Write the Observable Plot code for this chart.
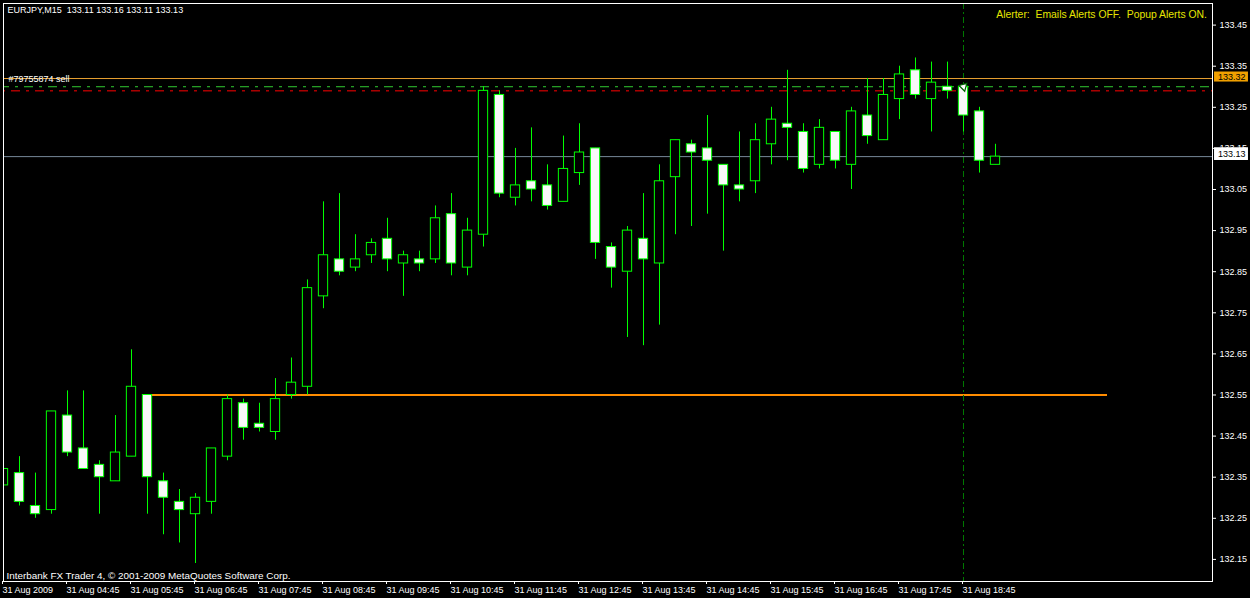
<!DOCTYPE html>
<html><head><meta charset="utf-8">
<script src="https://cdn.jsdelivr.net/npm/d3@7"></script>
<script src="https://cdn.jsdelivr.net/npm/@observablehq/plot@0.6"></script>
<style>
html,body{margin:0;padding:0;background:#000;}
#chart svg{display:block;}
#chart text{white-space:pre;}
</style></head><body><div id="chart"></div>
<script>
// EURJPY M15 candles, 31 Aug 2009, starting 03:45
const opens  = [132.33,132.36,132.28,132.27,132.50,132.42,132.38,132.34,132.40,132.55,132.34,132.29,132.26,132.29,132.40,132.53,132.48,132.46,132.55,132.57,132.79,132.88,132.86,132.89,132.93,132.87,132.88,132.88,132.99,132.86,132.94,133.28,133.03,133.07,133.06,133.02,133.09,133.15,132.91,132.85,132.93,132.87,133.08,133.16,133.15,133.11,133.06,133.07,133.16,133.21,133.19,133.11,133.19,133.11,133.23,133.17,133.27,133.34,133.27,133.30,133.30,133.24,133.11];
const highs  = [132.42,132.40,132.36,132.51,132.56,132.56,132.39,132.50,132.66,132.55,132.36,132.32,132.31,132.42,132.55,132.54,132.53,132.59,132.64,132.83,133.02,133.04,132.94,132.93,132.98,132.90,132.90,133.01,133.04,132.98,133.30,133.29,133.15,133.20,133.11,133.18,133.21,133.15,132.92,132.96,133.04,133.11,133.17,133.17,133.23,133.11,133.19,133.21,133.25,133.34,133.21,133.22,133.19,133.25,133.32,133.32,133.35,133.37,133.36,133.36,133.30,133.25,133.16];
const lows   = [132.21,132.28,132.25,132.26,132.40,132.37,132.26,132.34,132.40,132.26,132.21,132.19,132.14,132.26,132.39,132.44,132.46,132.44,132.54,132.55,132.76,132.84,132.85,132.87,132.85,132.79,132.85,132.87,132.84,132.84,132.91,133.03,133.01,133.02,133.00,133.02,133.06,132.88,132.81,132.69,132.67,132.72,132.94,132.96,132.99,132.90,133.02,133.04,133.11,133.12,133.09,133.10,133.10,133.05,133.16,133.17,133.22,133.27,133.19,133.27,133.19,133.09,133.11];
const closes = [132.37,132.29,132.26,132.51,132.41,132.37,132.35,132.41,132.57,132.35,132.30,132.27,132.30,132.42,132.54,132.47,132.47,132.54,132.58,132.81,132.89,132.85,132.88,132.92,132.88,132.89,132.87,132.98,132.87,132.95,133.29,133.04,133.06,133.05,133.01,133.10,133.14,132.92,132.86,132.95,132.88,133.07,133.17,133.14,133.12,133.06,133.05,133.17,133.22,133.20,133.10,133.20,133.12,133.24,133.18,133.28,133.33,133.28,133.31,133.29,133.23,133.12,133.13];

const timeTickIdx = [0,4,8,12,16,20,24,28,32,36,40,44,48,52,56,60];
const timeLabels = ["31 Aug 2009","31 Aug 04:45","31 Aug 05:45","31 Aug 06:45","31 Aug 07:45","31 Aug 08:45","31 Aug 09:45","31 Aug 10:45","31 Aug 11:45","31 Aug 12:45","31 Aug 13:45","31 Aug 14:45","31 Aug 15:45","31 Aug 16:45","31 Aug 17:45","31 Aug 18:45"];
const priceTicks = [132.15,132.25,132.35,132.45,132.55,132.65,132.75,132.85,132.95,133.05,133.15,133.25,133.35,133.45];

const askPrice = 133.32;
const bidPrice = 133.13;
const orderPrice = 133.30;
const stopPrice = 133.29;
const supportPrice = 132.55;
const supportFrom = 9, supportTo = 69;
const separatorIdx = 60;
const orderArrow = [{i: 60, p: 133.30}];

const headerText = "EURJPY,M15  133.11 133.16 133.11 133.13";
const alertText = "Alerter:  Emails Alerts OFF.  Popup Alerts ON.";
const footerText = "Interbank FX Trader 4, \u00A9 2001-2009 MetaQuotes Software Corp.";
const orderLabel = "#79755874 sell";

const candles = opens.map((o, i) => ({i, o, h: highs[i], l: lows[i], c: closes[i]}));
const FONT = "Liberation Sans, Arial, sans-serif";
const half = 0.29;

const chart = Plot.plot({
  width: 1250, height: 598,
  marginLeft: 3, marginRight: 38, marginTop: 3, marginBottom: 17,
  style: {background: "#000", color: "white", fontFamily: FONT, fontSize: "9px"},
  x: {type: "linear", domain: [0, 75.5625], axis: null},
  y: {type: "linear", domain: [132.09623, 133.50255], axis: null},
  marks: [
    // support level
    Plot.ruleY([{y: supportPrice, x1: supportFrom, x2: supportTo}], {y: "y", x1: "x1", x2: "x2", stroke: "#ff8c00", strokeWidth: 2}),
    // separator
    Plot.ruleX([separatorIdx], {stroke: "#007800", strokeDasharray: "6,3,2,3"}),
    // ask line, order lines, bid line
    Plot.ruleY([askPrice], {stroke: "#e8a030"}),
    Plot.ruleY([orderPrice], {stroke: "#32cd32", strokeDasharray: "9,6,3,6", strokeDashoffset: 3}),
    Plot.ruleY([stopPrice], {stroke: "#ff0000", strokeDasharray: "9,6,3,6", strokeDashoffset: -8}),
    Plot.ruleY([bidPrice], {stroke: "#778899"}),
    // wicks
    Plot.ruleX(candles, {x: "i", y1: "l", y2: "h", stroke: "#00ff00", clip: true}),
    // bodies
    Plot.rect(candles, {
      x1: d => d.i - half, x2: d => d.i + half,
      y1: d => Math.min(d.o, d.c), y2: d => Math.max(d.o, d.c),
      fill: d => d.c < d.o ? "#f8f8f8" : "#000",
      stroke: "#00ff00", strokeWidth: 1, clip: true
    }),
    // order open arrow
    Plot.dot(orderArrow, {x: "i", y: "p", symbol: "triangle", r: 3, rotate: 45, fill: "white", stroke: "#006400", strokeWidth: 1.2}),
    Plot.frame({stroke: "white"}),
    // axes
    Plot.axisY({anchor: "right", ticks: priceTicks, tickFormat: d => d.toFixed(2), tickSize: 3, tickPadding: 4, textAnchor: "start", fill: "white", stroke: "white"}),
    Plot.axisX({anchor: "bottom", ticks: timeTickIdx, tickFormat: d => timeLabels[timeTickIdx.indexOf(d)], tickSize: 3, tickPadding: 2, textAnchor: "start", dx: -1, fill: "white", stroke: "white"}),
    // price tags in right margin
    Plot.rect([askPrice], {y1: d => d - 0.0122, y2: d => d + 0.0122, x1: 75.69, x2: 77.81, fill: "#f0a000", dy: -1.5}),
    Plot.text([askPrice], {y: d => d, x: 75.9, text: d => d.toFixed(2), fill: "#000", textAnchor: "start", dy: -1.5}),
    Plot.rect([bidPrice], {y1: d => d - 0.0155, y2: d => d + 0.0155, x1: 75.69, x2: 77.81, fill: "#ffffff", dy: -2.5}),
    Plot.text([bidPrice], {y: d => d, x: 75.9, text: d => d.toFixed(2), fill: "#000", textAnchor: "start", dy: -2.5}),
    // texts
    Plot.text([headerText], {frameAnchor: "top-left", text: d => d, dx: 4, dy: 3, lineAnchor: "top", textAnchor: "start", fill: "white"}),
    Plot.text([alertText], {frameAnchor: "top-right", text: d => d, dx: -5.5, dy: 7.5, lineAnchor: "top", textAnchor: "end", fill: "#e6e600", fontSize: 10.4}),
    Plot.text([footerText], {frameAnchor: "bottom-left", text: d => d, dx: 3, dy: -3, lineAnchor: "bottom", textAnchor: "start", fill: "white", fontSize: 9.9}),
    Plot.text([{y: askPrice, t: orderLabel}], {frameAnchor: "left", y: "y", text: "t", dx: 5, dy: 1, textAnchor: "start", fill: "white"})
  ]
});
document.getElementById("chart").appendChild(chart);
</script>
</body></html>
